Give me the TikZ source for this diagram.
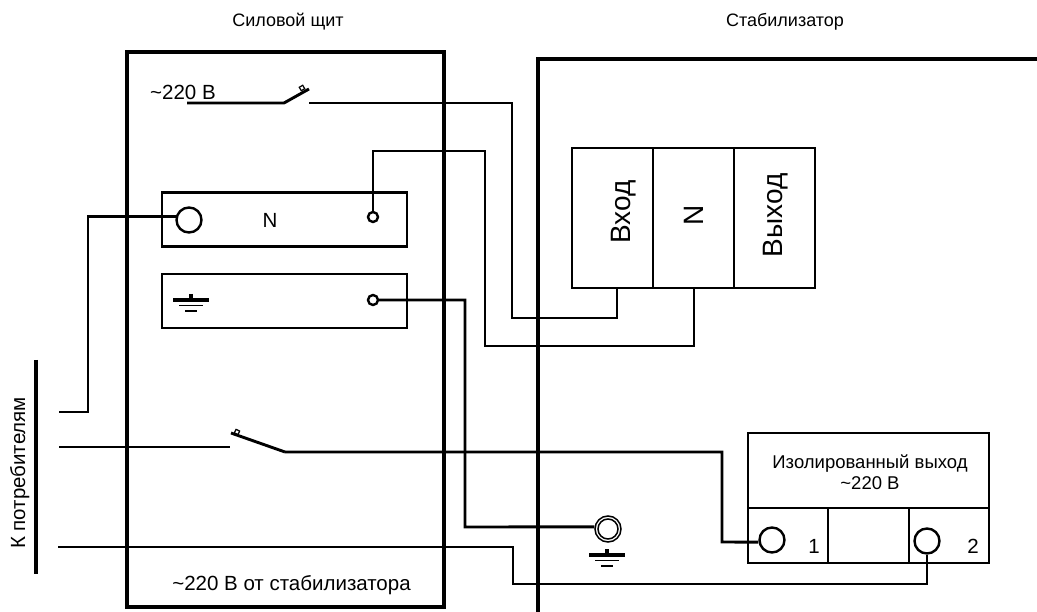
\documentclass[tikz,border=0pt]{standalone}
\usepackage{fontspec}
\setmainfont{Liberation Sans}
\tikzset{
    wall/.style={line width=4pt},
    wire/.style={line width=2.9pt},
    bar/.style={draw, line width=2.4pt, minimum width=245pt, minimum height=54pt, inner sep=0pt, outer sep=0pt},
    cell/.style={draw, line width=1.6pt, minimum width=81pt, minimum height=140pt, inner sep=0pt, outer sep=0pt},
    slot/.style={draw, line width=1.8pt, minimum width=80.5pt, minimum height=55pt, inner sep=0pt, outer sep=0pt},
    bigterm/.style={draw, circle, line width=2.4pt, minimum size=25pt, inner sep=0pt},
    smallterm/.style={draw, circle, line width=2.4pt, minimum size=10pt, inner sep=0pt},
    contact/.style={draw, line width=1.2pt, minimum size=4pt, inner sep=0pt},
    txt/.style={font=\fontsize{18}{21}\selectfont, align=center, inner sep=0pt},
    midtxt/.style={font=\fontsize{20.5}{23}\selectfont, align=center, inner sep=0pt},
    bigtxt/.style={font=\fontsize{28}{32}\selectfont, rotate=90, anchor=base, inner sep=0pt},
    gnd/.pic={
        \draw[line width=4pt] (-18,0) -- (18,0);
        \draw[line width=4pt] (0,-6) -- (0,0);
        \draw[line width=1.4pt] (-12,5.5) -- (12,5.5);
        \draw[line width=1.4pt] (-6,11) -- (6,11);
    }
}
\begin{document}
\begin{tikzpicture}[x=1pt, y=-1pt]
    \useasboundingbox (0,0) rectangle (1037,612);
    % titles
    \node[txt] (titleshield) at (288,22) {Силовой щит};
    \node[txt] (titlestab) at (785,22) {Стабилизатор};
    % shield
    \node[draw, wall, minimum width=317pt, minimum height=555pt, inner sep=0pt] (shield) at (285.5,329.5) {};
    \node[midtxt] (inlabel) at (183,92) {\textasciitilde220 В};
    \node[midtxt] (outlabel) at (291.5,585) {\textasciitilde220 В от стабилизатора};
    \node[bar] (nbar) at (284.5,219.5) {};
    \node[bar] (pebar) at (284.5,301) {};
    \node[midtxt] (nlabel) at (270,220) {N};
    \node[bigterm] (nbig) at (189,220) {};
    \node[smallterm] (nsmall) at (373,217) {};
    \node[smallterm] (pesmall) at (373,300) {};
    \pic at (191,300) {gnd};
    % stabilizer
    \draw[wall] (1037,59) -- (538,59) -- (538,612);
    \foreach \x/\name in {612.5/cellin, 693.5/celln, 774.5/cellout}{
        \node[cell] (\name) at (\x,218) {};
    }
    \node[bigtxt] (cellintext) at (630,212) {Вход};
    \node[bigtxt] (cellntext) at (703,215) {N};
    \node[bigtxt] (cellouttext) at (782,215.5) {Выход};
    % isolated output
    \node[draw, line width=1.8pt, minimum width=241pt, minimum height=75pt, inner sep=0pt, outer sep=0pt] (isohead) at (868.5,470.5) {};
    \foreach \x/\name in {788/slota, 868.5/slotb, 949/slotc}{
        \node[slot] (\name) at (\x,535.5) {};
    }
    \node[txt, font=\fontsize{18.5}{21}\selectfont] (isolabel) at (870,472) {Изолированный выход\\\textasciitilde220 В};
    \node[midtxt] (one) at (814,546) {1};
    \node[midtxt] (two) at (973,546) {2};
    \node[bigterm] (isoa) at (772,540) {};
    \node[bigterm] (isob) at (927,541) {};
    % earth terminal
    \node[draw, circle, line width=1.5pt, minimum size=26pt, inner sep=0pt] (earth) at (608,529) {};
    \node[draw, circle, line width=1.5pt, minimum size=20pt, inner sep=0pt] (earthin) at (608,529) {};
    \pic at (607,555) {gnd};
    % consumers
    \node[midtxt, rotate=90, anchor=base] (cons) at (25,473) {К потребителям};
    \coordinate (consa) at (36,360);
    \coordinate (consb) at (36,574);
    \draw[wall] (consa) -- (consb);
    \coordinate (linea) at (59,412);
    \coordinate (lineb) at (59,447);
    \coordinate (linec) at (58,547);
    % switches
    \coordinate (swa) at (187,103);
    \coordinate (swb) at (284,103);
    \coordinate (swc) at (309,89);
    \coordinate (swd) at (309,103);
    \coordinate (swe) at (230,447);
    \coordinate (swf) at (231,433);
    \coordinate (swg) at (285,452);
    \draw[wire] (swa) -- (swb) -- (swc);
    \node[contact, rotate=30] (tipa) at (302,88) {};
    \draw[wire] (swf) -- (swg);
    \node[contact, rotate=-25] (tipb) at (237,432) {};
    % wires
    \draw[wire] (swd) -| (512,318) -| (617,288);
    \draw[wire] (nsmall) |- (485,151) |- (694,346) -- (694,288);
    \draw[wire] (nbig.165) -| (88,412) -- (linea);
    \draw[wire] (pesmall) -| (465,527) -- (earth.171);
    \draw[wire] (lineb) -- (swe);
    \draw[wire] (swg) -| (722,542) -- (isoa.189);
    \draw[wire] (linec) -| (513,584) -| (isob.south);
\end{tikzpicture}
\end{document}
